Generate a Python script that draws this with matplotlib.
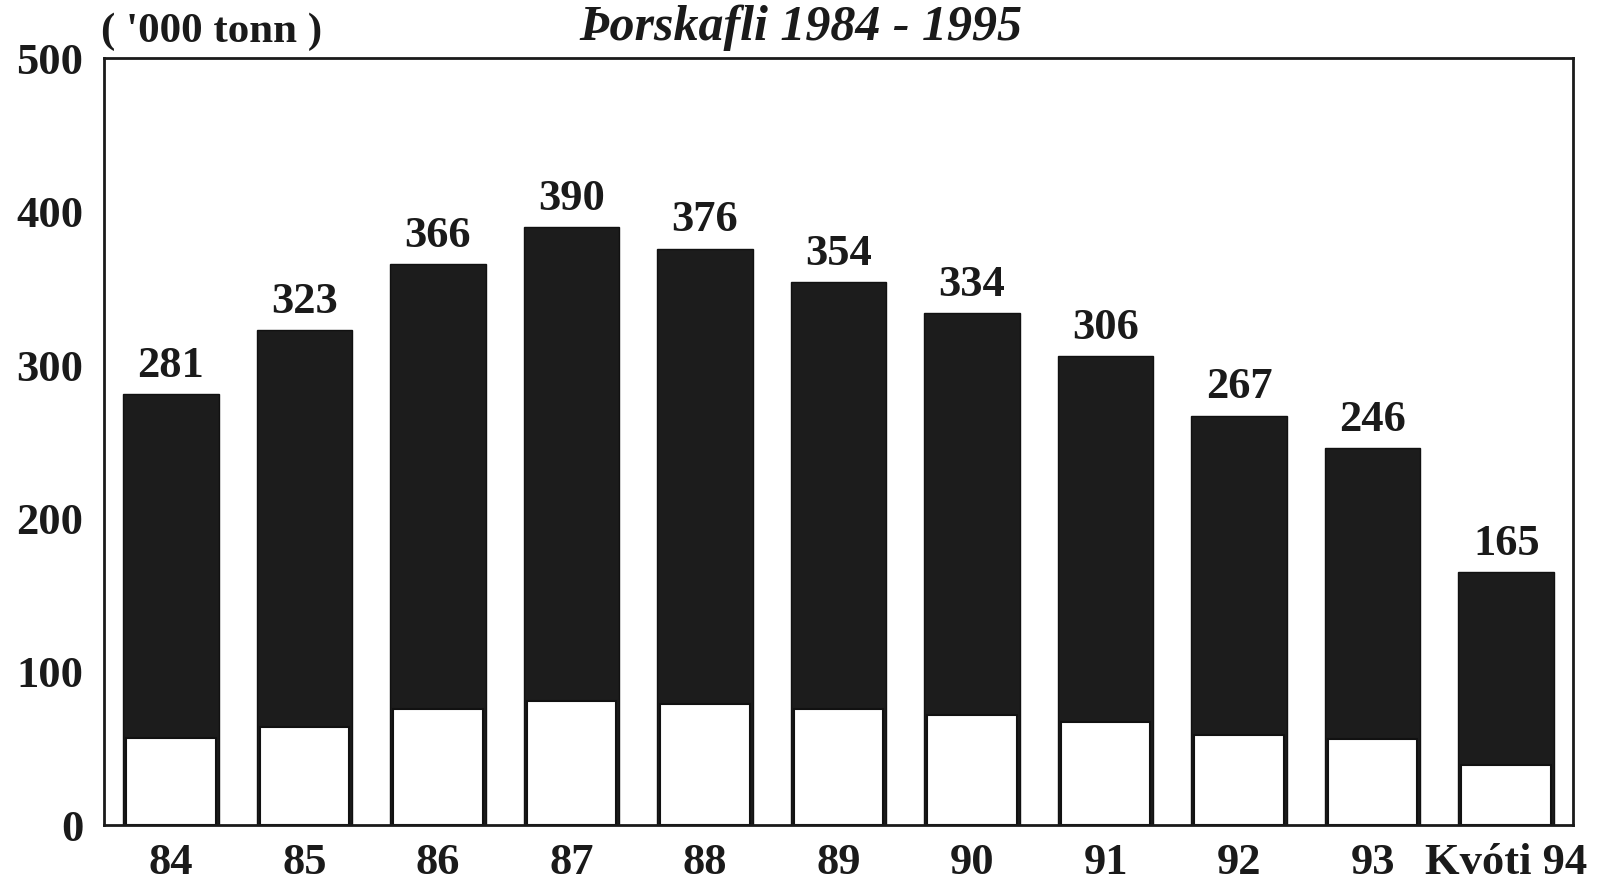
import matplotlib.pyplot as plt
import numpy as np

# aflatölur ('000 tonn)
ar = ['84', '85', '86', '87', '88', '89', '90', '91', '92', '93', 'Kvóti 94']
heild = [281, 323, 366, 390, 376, 354, 334, 306, 267, 246, 165]
hluti = [57, 64, 76, 81, 79, 76, 72, 67, 59, 56, 39]

plt.rcParams['font.family'] = ['Liberation Serif', 'DejaVu Serif']

fig = plt.figure(figsize=(16.11, 8.86), dpi=100)
ax = fig.add_axes([0.0646, 0.0688, 0.9118, 0.8652])

x = np.arange(len(ar))
ax.bar(x, heild, width=0.715, color='#1c1c1c', edgecolor='#111111', linewidth=1)
ax.bar(x, hluti, width=0.67, color='white', edgecolor='#111111', linewidth=1.5)

for xi, v in zip(x, heild):
    ax.annotate(str(v), (xi, v), xytext=(0, 6), textcoords='offset points',
                ha='center', va='bottom', fontsize=32, fontweight='bold', color='#1a1a1a')

ax.set_xlim(-0.5, 10.5)
ax.set_ylim(0, 500)
ax.set_yticks([0, 100, 200, 300, 400, 500])
ax.set_xticks(x)
ax.set_xticklabels(ar)
ax.tick_params(axis='both', length=0, labelsize=32, colors='#1a1a1a')
ax.tick_params(axis='y', pad=15)
ax.tick_params(axis='x', pad=13)
for t in ax.get_xticklabels() + ax.get_yticklabels():
    t.set_fontweight('bold')
for s in ax.spines.values():
    s.set_linewidth(2)
    s.set_color('#1a1a1a')

fig.text(0.063, 0.953, "( '000 tonn )", fontsize=31, fontweight='bold',
         ha='left', va='baseline', color='#1a1a1a')
fig.text(0.497, 0.955, 'Þorskafli 1984 - 1995', fontsize=36, fontweight='bold',
         style='italic', ha='center', va='baseline', color='#1a1a1a')

fig.savefig('out.png', dpi=100)
